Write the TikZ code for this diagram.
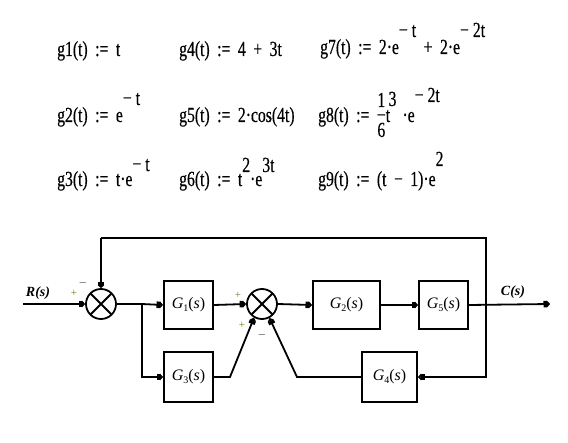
\documentclass[tikz,border=0pt]{standalone}
\usepackage{fontspec}
\setmainfont{Liberation Serif}
\usetikzlibrary{arrows.meta}
\newfontfamily\mcfont[FakeStretch=0.73,FakeBold=0.4]{Liberation Serif}
\newcommand\eqfont{\mcfont\fontsize{21.5}{24}\selectfont\spaceskip=7.5pt\relax}
\newcommand\Sup[2][17pt]{\raisebox{#1}{#2}}
\newcommand\fracsix{\makebox[0pt][l]{\raisebox{15pt}{\makebox[8.9pt][c]{1}}}\makebox[0pt][l]{\raisebox{-15pt}{\makebox[8.9pt][c]{6}}}\makebox[8.9pt][c]{−}}
\newcommand\Gs[1]{\textit{G}\raisebox{-3pt}{\fontsize{10}{12}\selectfont #1}(\textit{s})}
\definecolor{olive2}{RGB}{120,120,20}
\begin{document}
\begin{tikzpicture}[x=1pt,y=-1pt,
  eq/.style={anchor=base west,inner sep=0pt,font=\eqfont},
  blk/.style={draw,line width=2pt,inner sep=0pt,font=\fontsize{16}{18}\selectfont},
  sumj/.style={draw,circle,line width=1.8pt,minimum size=30pt,inner sep=0pt,
    path picture={\draw[line width=1.8pt] (path picture bounding box.north west)--(path picture bounding box.south east)
      (path picture bounding box.north east)--(path picture bounding box.south west);}},
  wire/.style={line width=1.8pt},
  arr/.style={wire,-{Square[length=3.5pt,width=6.5pt]Triangle[length=3pt,width=6.5pt]}},
  plus/.style={text=olive2,inner sep=0pt,font=\fontsize{11}{12}\selectfont},
  minus/.style={inner sep=0pt,font=\fontsize{11}{12}\selectfont},
  sig/.style={inner sep=0pt,font=\bfseries\itshape\fontsize{14}{16}\selectfont}]
\useasboundingbox (0,0) rectangle (568,443);
% equations
\node[eq] (e1) at (57,56) {g1(t) := t};
\node[eq] (e4) at (179,56) {g4(t) := 4 + 3t};
\node[eq] (e7) at (320,54) {g7(t) := 2·e\Sup{−\hspace{4pt}t} + 2·e\Sup{−\hspace{4pt}2t}};
\node[eq] (e2) at (57,122) {g2(t) := e\Sup{−\hspace{4pt}t}};
\node[eq] (e5) at (179,122) {g5(t) := 2·cos(4t)};
\node[eq] (e8) at (318,122) {g8(t) := \fracsix t\kern-1.5pt\Sup[16pt]{3}\kern6pt·e\Sup[20pt]{−\hspace{4pt}2t}};
\node[eq] (e3) at (57,186) {g3(t) := t·e\Sup[15pt]{−\hspace{4pt}t}};
\node[eq] (e6) at (179,186) {g6(t) := t\Sup[14pt]{2}·e\Sup[14pt]{3t}};
\node[eq] (e9) at (318,186) {g9(t) := (t − 1)·e\Sup[20pt]{2}};
% block diagram
\node[sumj] (s1) at (101,304) {};
\node[sumj] (s2) at (262,304) {};
\node[blk,minimum width=49pt,minimum height=48pt] (g1) at (188.5,305) {\Gs{1}};
\node[blk,minimum width=49pt,minimum height=50pt] (g3) at (188.5,377) {\Gs{3}};
\node[blk,minimum width=67pt,minimum height=48pt] (g2) at (346.5,305) {\Gs{2}};
\node[blk,minimum width=49pt,minimum height=48pt] (g5) at (443.5,305) {\Gs{5}};
\node[blk,minimum width=55pt,minimum height=50pt] (g4) at (389.5,377) {\Gs{4}};
\coordinate (in) at (23,304);
\coordinate (out) at (550,304);
\coordinate (br1) at (142,304);
\coordinate (br2) at (486,304);
\coordinate (tr) at (486,238);
\coordinate (tl) at (101,238);
\coordinate (br2b) at (486,377);
\coordinate (k3) at (230,377);
\coordinate (k4) at (297,377);
\draw[arr] (in) -- (s1.west);
\draw[wire] (s1.east) -- (br1);
\draw[arr] (br1) -- (g1.west);
\draw[arr] (br1) |- (g3.west);
\draw[arr] (g1.east) -- (s2.west);
\draw[arr] (s2.east) -- (g2.west);
\draw[arr] (g2.east) -- (g5.west);
\draw[arr] (g5.east) -- (out);
\draw[wire] (br2) -- (tr) -- (tl);
\draw[arr] (tl) -- (s1.north);
\draw[arr] (br2) -- (br2b) -- (g4.east);
\draw[arr] (g3.east) -- (k3) -- (s2.-120);
\draw[arr] (g4.west) -- (k4) -- (s2.-62);
% labels
\node[sig] (R) at (38,293) {R(s)};
\node[sig] (C) at (513,292) {C(s)};
\node[plus] (p1) at (74,293) {+};
\node[minus] (m1) at (83,283) {$-$};
\node[plus] (p2) at (238,295) {+};
\node[plus] (p3) at (242,325) {+};
\node[minus] (m2) at (262,335) {$-$};
\end{tikzpicture}
\end{document}
